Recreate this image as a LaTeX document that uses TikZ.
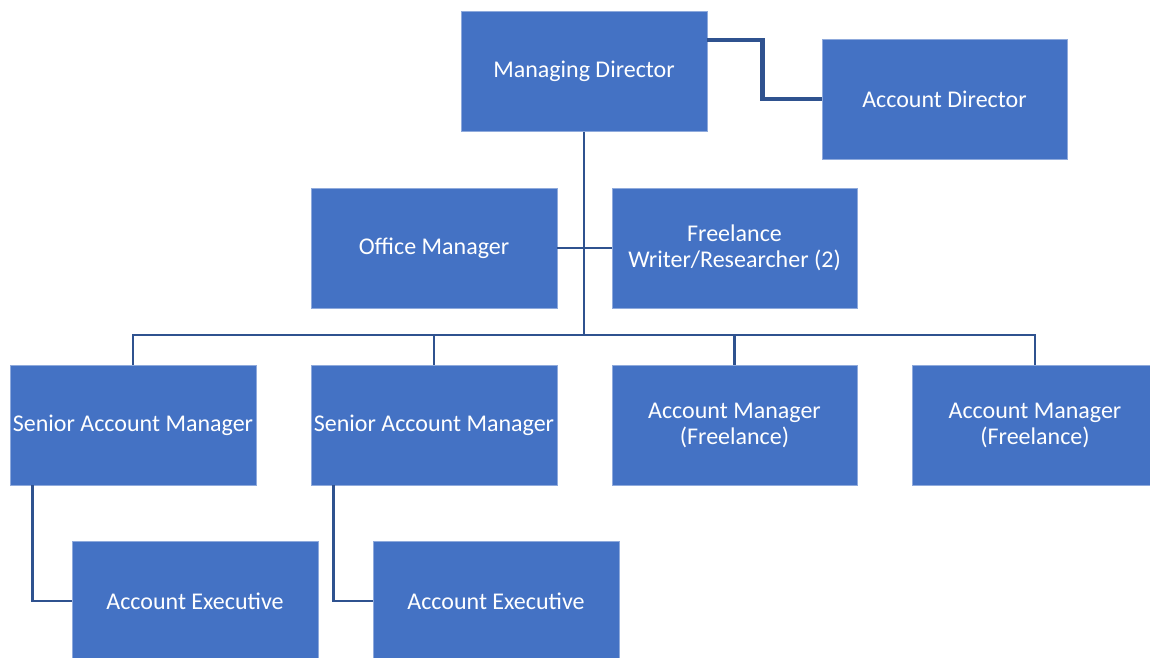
\documentclass[tikz,border=0pt]{standalone}
\usepackage{fontspec}
\setmainfont{Carlito}
\definecolor{boxfill}{RGB}{68,114,196}
\definecolor{boxedge}{RGB}{143,170,220}
\definecolor{linkcol}{RGB}{47,82,143}
\begin{document}
\begin{tikzpicture}[x=1pt,y=-1pt,
  orgbox/.style={rectangle, fill=boxfill, draw=boxedge, line width=0.7pt,
    minimum width=246pt, minimum height=120pt, inner sep=1pt,
    text=white, align=center, font=\fontsize{24}{26}\selectfont},
  link/.style={draw=linkcol, line width=2.6pt},
  boldlink/.style={draw=linkcol, line width=4.5pt}]
\useasboundingbox (0,0) rectangle (1150,657);
\node[orgbox] (MD) at (584,71.5) {Managing Director};
\node[orgbox, minimum width=245pt] (AD) at (944.5,99) {Account Director};
\node[orgbox] (OM) at (434,248) {Office Manager};
\node[orgbox, minimum width=245pt] (FW) at (734.5,248) {Freelance\\Writer/Researcher (2)};
\node[orgbox] (SAM1) at (133,425) {Senior Account Manager};
\node[orgbox] (SAM2) at (434,425) {Senior Account Manager};
\node[orgbox, minimum width=245pt] (AM1) at (734.5,425) {Account Manager\\(Freelance)};
\node[orgbox] (AM2) at (1035,425) {Account Manager\\(Freelance)};
\node[orgbox] (AE1) at (195,601) {Account Executive};
\node[orgbox] (AE2) at (496,601) {Account Executive};
\coordinate (bus) at (0,335);
\draw[boldlink] (MD.north east) ++(0,29) -- ++(55,0) |- (AD.west);
\draw[link] (MD.south) -- (MD.south |- bus);
\draw[link] (OM.east) -- (FW.west);
\draw[link] (SAM1.north) -- (SAM1.north |- bus) -- (AM2.north |- bus) -- (AM2.north);
\draw[link] (SAM2.north) -- (SAM2.north |- bus);
\draw[link] (AM1.north) -- (AM1.north |- bus);
\draw[link] (SAM1.south west) ++(23,0) |- (AE1.west);
\draw[link] (SAM2.south west) ++(23,0) |- (AE2.west);
\end{tikzpicture}
\end{document}
